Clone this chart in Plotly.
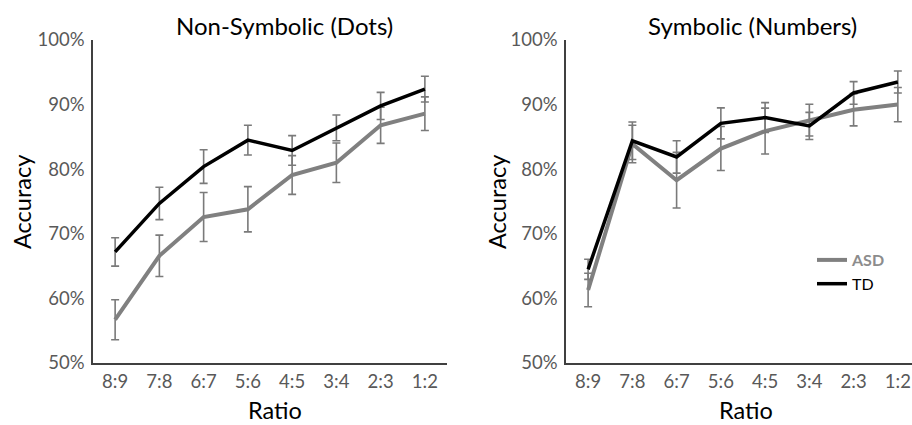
import plotly.graph_objects as go

ratios = ["8:9", "7:8", "6:7", "5:6", "4:5", "3:4", "2:3", "1:2"]

dots_asd = [56.7, 66.6, 72.6, 73.8, 79.1, 81.0, 86.8, 88.6]
dots_asd_err = [3.1, 3.2, 3.8, 3.5, 3.0, 3.05, 2.8, 2.6]
dots_td = [67.2, 74.7, 80.4, 84.5, 82.9, 86.4, 89.8, 92.4]
dots_td_err = [2.2, 2.5, 2.6, 2.3, 2.3, 2.0, 2.1, 2.0]

num_asd = [61.3, 83.9, 78.3, 83.2, 85.9, 87.6, 89.2, 90.0]
num_asd_err = [2.6, 2.9, 4.3, 3.4, 3.55, 2.45, 2.5, 2.65]
num_td = [64.5, 84.4, 81.9, 87.1, 88.0, 86.7, 91.8, 93.5]
num_td_err = [1.55, 2.9, 2.5, 2.4, 2.3, 2.1, 1.75, 1.7]

y_ticks = [50, 60, 70, 80, 90, 100]
y_tick_labels = ["50%", "60%", "70%", "80%", "90%", "100%"]

FONT = "Lato"
ASD_COLOR = "#808080"
TD_COLOR = "#000000"
ERR_COLOR = "#7a7a7a"

W, H = 912, 425

fig = go.Figure()

def add_series(y, err, color, width, name, xa, ya, show):
    fig.add_trace(go.Scatter(
        x=ratios, y=y, mode="lines", name=name,
        line=dict(color=color, width=width),
        error_y=dict(type="data", array=err, visible=True,
                     color=ERR_COLOR, thickness=1.6, width=4),
        xaxis=xa, yaxis=ya, showlegend=show,
    ))

add_series(dots_asd, dots_asd_err, ASD_COLOR, 4, "ASD", "x", "y", False)
add_series(dots_td, dots_td_err, TD_COLOR, 3.5, "TD", "x", "y", False)
add_series(num_asd, num_asd_err, ASD_COLOR, 4,
           "<b><span style='color:#8c8c8c'>ASD</span></b>", "x2", "y2", True)
add_series(num_td, num_td_err, TD_COLOR, 3.5, "TD", "x2", "y2", True)

ydom = [62 / H, 385 / H]
axis_line = dict(showline=True, linecolor="#404040", linewidth=1.5,
                 showgrid=False, zeroline=False, automargin=False)
tickfont = dict(family=FONT, size=18.5, color="#595959")

xcommon = dict(type="category", ticks="outside", ticklen=1,
               tickcolor="rgba(0,0,0,0)", tickfont=tickfont,
               ticklabeloverflow="allow", **axis_line)
ycommon = dict(range=[50, 100], tickmode="array", tickvals=y_ticks,
               ticktext=y_tick_labels,
               ticks="outside", ticklen=3, tickcolor="rgba(0,0,0,0)",
               tickfont=tickfont, domain=ydom, **axis_line)

fig.update_layout(
    width=W, height=H,
    margin=dict(l=0, r=0, t=0, b=0, pad=0, autoexpand=False),
    paper_bgcolor="white", plot_bgcolor="white",
    font=dict(family=FONT),
    xaxis=dict(domain=[93 / W, 447 / W], range=[-0.5, 7.5], anchor="y", **xcommon),
    yaxis=dict(anchor="x", **ycommon),
    xaxis2=dict(domain=[566 / W, 1.0], range=[-0.5, 7.32], anchor="y2", **xcommon),
    yaxis2=dict(anchor="x2", **ycommon),
    legend=dict(x=812 / W, y=(H - 243) / H, xanchor="left", yanchor="top",
                bgcolor="rgba(0,0,0,0)", font=dict(family=FONT, size=16, color="#000"),
                tracegroupgap=0, itemwidth=30),
)

def txt(x, y, s, size, angle=0):
    fig.add_annotation(x=x / W, y=(H - y) / H, xref="paper", yref="paper",
                       text=s, showarrow=False, textangle=angle,
                       font=dict(family=FONT, size=size, color="#000"),
                       xanchor="center", yanchor="middle")

txt(284, 25, "Non-Symbolic (Dots)", 24)
txt(752, 26, "Symbolic (Numbers)", 24)
txt(275, 410, "Ratio", 23.5)
txt(746, 410, "Ratio", 23.5)
txt(22, 202, "Accuracy", 23.5, -90)
txt(497, 202, "Accuracy", 23.5, -90)

fig.write_html("out.html", config={"displayModeBar": False},
               post_script="document.body.style.margin='0';")
